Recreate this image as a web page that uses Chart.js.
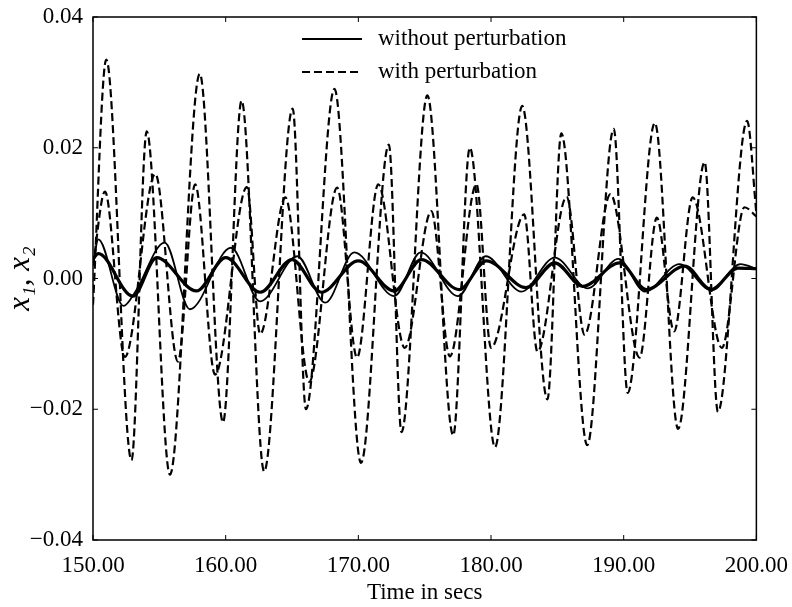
<!DOCTYPE html>
<html>
<head>
<meta charset="utf-8">
<script src="https://cdn.jsdelivr.net/npm/chart.js@4.4.1/dist/chart.umd.min.js"></script>
<style>
  html, body { margin: 0; padding: 0; background: #fff; }
  #myChart { display: block; }
</style>
</head>
<body>
<canvas id="myChart" width="792" height="607"></canvas>
<script>
// x1, x2 com perturbacao (tracejadas) - picos e vales
const tA = [150.0, 151.0, 152.9, 154.05, 155.8, 158.05, 159.8, 161.2, 162.9, 165.05, 166.05, 168.2, 170.2, 172.3, 173.25, 175.2, 177.15, 178.4, 180.3, 182.35, 184.25, 185.3, 187.25, 189.25, 190.3, 192.35, 194.1, 196.1, 197.1, 199.3, 200.0];
const vA = [-0.004, 0.0335, -0.0278, 0.0225, -0.0300, 0.0313, -0.0220, 0.0272, -0.0295, 0.0260, -0.0200, 0.0290, -0.0282, 0.0205, -0.0235, 0.0280, -0.0240, 0.0200, -0.0258, 0.0264, -0.0185, 0.0222, -0.0255, 0.0229, -0.0175, 0.0238, -0.0230, 0.0178, -0.0204, 0.0241, 0.0100];

const tB = [150.0, 150.9, 152.4, 154.7, 156.4, 157.7, 159.2, 161.6, 162.6, 164.5, 166.3, 168.4, 169.9, 171.5, 173.5, 175.5, 176.9, 178.9, 180.0, 182.5, 183.5, 185.7, 187.05, 189.0, 191.2, 192.5, 193.8, 195.2, 197.4, 199.1, 200.0];
const vB = [0.002, 0.0133, -0.0120, 0.0160, -0.0127, 0.0144, -0.0147, 0.0140, -0.0085, 0.0124, -0.0158, 0.0139, -0.0121, 0.0144, -0.0106, 0.0103, -0.0119, 0.0144, -0.0106, 0.0098, -0.0112, 0.0125, -0.0086, 0.0129, -0.0121, 0.0093, -0.0081, 0.0124, -0.0106, 0.0109, 0.0095];

// x1, x2 sem perturbacao (linhas cheias)
const tS1 = [150.0, 150.4, 153.0, 154.8, 157.8, 160.0, 162.6, 165.0, 167.2, 170.0, 172.7, 174.75, 177.6, 179.65, 182.65, 184.8, 186.9, 189.7, 191.7, 194.6, 196.6, 198.6, 200.0];
const vS1 = [0.0030, 0.0038, -0.0027, 0.0032, -0.0019, 0.0032, -0.0021, 0.0029, -0.0021, 0.0027, -0.0019, 0.0029, -0.0017, 0.0027, -0.0014, 0.0024, -0.0012, 0.0024, -0.0017, 0.0019, -0.0017, 0.0016, 0.0015];

const tS2 = [150.0, 150.4, 152.3, 153.2, 155.4, 157.3, 160.4, 162.6, 165.4, 167.5, 169.7, 172.7, 174.7, 177.5, 179.6, 182.3, 184.8, 187.3, 189.6, 191.6, 194.2, 196.6, 198.8, 200.0];
const vS2 = [0.0020, 0.0060, -0.0042, -0.0020, 0.0055, -0.0047, 0.0047, -0.0035, 0.0034, -0.0037, 0.0040, -0.0027, 0.0040, -0.0027, 0.0034, -0.0020, 0.0032, -0.0015, 0.0030, -0.0020, 0.0022, -0.0018, 0.0022, 0.0015];

const legendLabels = ['without perturbation', 'with perturbation'];
const xTitle = 'Time in secs';
const yTitle = 'x\u2081, x\u2082';

const serif = "'Liberation Serif', 'DejaVu Serif', serif";

function pontos(ts, vs) {
  return ts.map((t, i) => ({ x: t, y: vs[i] }));
}

function serie(ts, vs, largura, tracejado) {
  return {
    data: pontos(ts, vs),
    borderColor: '#000',
    borderWidth: largura,
    borderDash: tracejado ? [8, 4] : [],
    pointRadius: 0,
    fill: false,
    cubicInterpolationMode: 'monotone'
  };
}

// moldura, marcas internas e legenda
const molduraPlugin = {
  id: 'moldura',
  afterDraw(chart) {
    const { ctx, chartArea: a, scales } = chart;
    ctx.save();
    ctx.strokeStyle = '#000';
    ctx.lineWidth = 1.5;
    ctx.setLineDash([]);
    ctx.strokeRect(a.left, a.top, a.right - a.left, a.bottom - a.top);

    ctx.lineWidth = 1;
    ctx.beginPath();
    scales.x.ticks.forEach(t => {
      const px = scales.x.getPixelForValue(t.value);
      ctx.moveTo(px, a.bottom); ctx.lineTo(px, a.bottom - 5);
      ctx.moveTo(px, a.top); ctx.lineTo(px, a.top + 5);
    });
    scales.y.ticks.forEach(t => {
      const py = scales.y.getPixelForValue(t.value);
      ctx.moveTo(a.left, py); ctx.lineTo(a.left + 5, py);
      ctx.moveTo(a.right, py); ctx.lineTo(a.right - 5, py);
    });
    ctx.stroke();

    // legenda
    const lx = a.left + 209;
    const ly = a.top + 22;
    ctx.lineWidth = 2;
    ctx.beginPath();
    ctx.moveTo(lx, ly); ctx.lineTo(lx + 60, ly);
    ctx.stroke();
    ctx.setLineDash([8, 4]);
    ctx.beginPath();
    ctx.moveTo(lx, ly + 33); ctx.lineTo(lx + 60, ly + 33);
    ctx.stroke();
    ctx.setLineDash([]);
    ctx.fillStyle = '#000';
    ctx.font = '23px ' + serif;
    ctx.textBaseline = 'middle';
    ctx.fillText(legendLabels[0], lx + 76, ly);
    ctx.fillText(legendLabels[1], lx + 76, ly + 33);
    ctx.restore();
  }
};

const ctx = document.getElementById('myChart').getContext('2d');

const grafico = new Chart(ctx, {
  type: 'line',
  data: {
    datasets: [
      serie(tS1, vS1, 3.2, false),
      serie(tS2, vS2, 1.8, false),
      serie(tA, vA, 2.2, true),
      serie(tB, vB, 2.2, true)
    ]
  },
  options: {
    responsive: false,
    animation: false,
    devicePixelRatio: 1,
    layout: { padding: { top: 17, right: 30, bottom: 0, left: 0 } },
    plugins: {
      legend: { display: false },
      tooltip: { enabled: false }
    },
    scales: {
      x: {
        type: 'linear',
        min: 150,
        max: 200,
        grid: { display: false },
        border: { display: false },
        ticks: {
          stepSize: 10,
          color: '#000',
          padding: 4,
          maxRotation: 0,
          font: { family: serif, size: 23 },
          callback: v => v.toFixed(2)
        },
        title: {
          display: true,
          text: xTitle,
          color: '#000',
          font: { family: serif, size: 23 },
          padding: { top: 2, bottom: 0 }
        },
        afterFit: s => { s.height = 67; }
      },
      y: {
        min: -0.04,
        max: 0.04,
        grid: { display: false },
        border: { display: false },
        ticks: {
          stepSize: 0.02,
          color: '#000',
          padding: 2,
          font: { family: serif, size: 23 },
          callback: v => (v < -1e-9 ? '\u2212' + Math.abs(v).toFixed(2) : Math.abs(v).toFixed(2))
        },
        title: {
          display: true,
          text: yTitle,
          color: '#000',
          font: { family: serif, size: 31, style: 'italic' },
          padding: { top: 2, bottom: 0 }
        },
        afterFit: s => { s.width = 93; }
      }
    }
  },
  plugins: [molduraPlugin]
});
</script>
</body>
</html>
